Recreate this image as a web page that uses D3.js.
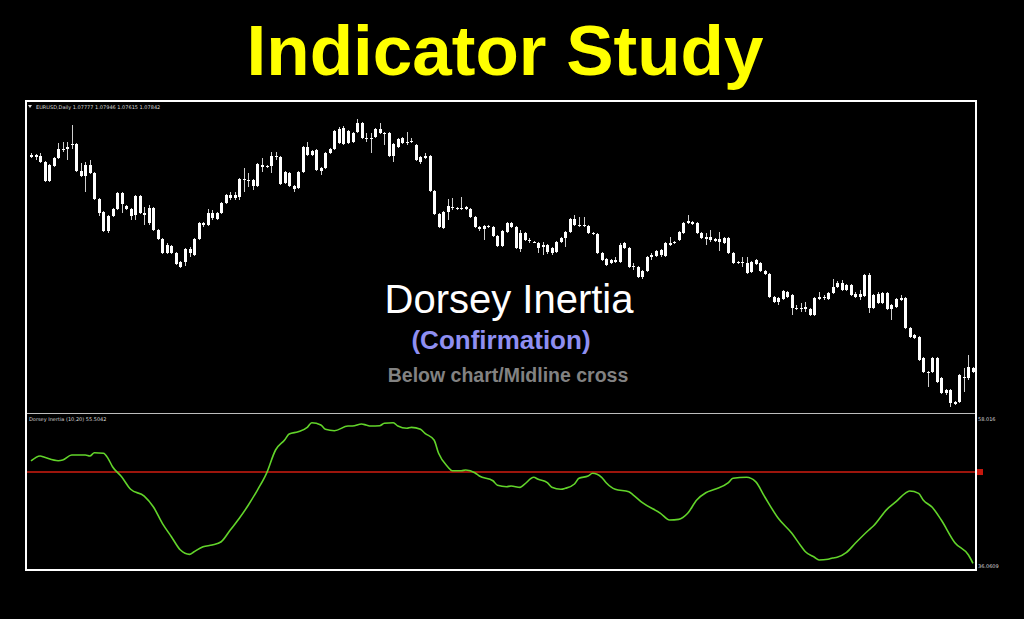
<!DOCTYPE html>
<html>
<head>
<meta charset="utf-8">
<script src="https://cdn.jsdelivr.net/npm/d3@7"></script>
<style>
  body { margin: 0; background: #000; }
  svg { display: block; }
</style>
</head>
<body>
<svg width="1024" height="619"></svg>
<script>
// EURUSD daily candles
var openPrices = [
  1.1190,1.1186,1.1188,1.1176,1.1138,1.1168,1.1184,1.1202,1.1202,1.1210,
  1.1212,1.1158,1.1148,1.1170,1.1154,1.1102,1.1076,1.1038,1.1068,1.1082,
  1.1114,1.1088,1.1082,1.1070,1.1108,1.1074,1.1054,1.1084,1.1040,1.1022,
  1.0994,1.1008,1.0994,1.0976,1.0976,1.1002,1.0990,1.1022,1.1054,1.1050,
  1.1074,1.1062,1.1074,1.1094,1.1110,1.1104,1.1106,1.1142,1.1140,1.1140,
  1.1128,1.1170,1.1166,1.1168,1.1188,1.1186,1.1134,1.1154,1.1128,1.1124,
  1.1156,1.1206,1.1190,1.1200,1.1164,1.1164,1.1194,1.1202,1.1242,1.1212,
  1.1238,1.1216,1.1236,1.1254,1.1224,1.1224,1.1226,1.1242,1.1234,1.1234,
  1.1188,1.1206,1.1224,1.1216,1.1216,1.1210,1.1186,1.1184,1.1188,1.1118,
  1.1072,1.1044,1.1076,1.1086,1.1084,1.1084,1.1086,1.1082,1.1066,1.1046,
  1.1042,1.1048,1.1046,1.1028,1.1008,1.1036,1.1054,1.1046,1.1002,1.1034,
  1.1020,1.1016,1.1014,1.1006,1.1010,1.1004,1.0996,1.1016,1.1024,1.1036,
  1.1062,1.1050,1.1050,1.1048,1.1034,1.1032,1.0994,1.0982,1.0974,1.0980,
  1.0976,1.1014,1.1004,1.0968,1.0966,1.0946,1.0958,1.0986,1.0988,1.1000,
  1.0988,1.1010,1.1014,1.1020,1.1034,1.1054,1.1056,1.1054,1.1034,1.1026,
  1.1020,1.1022,1.1016,1.1024,1.1024,1.0994,1.0976,1.0974,1.0974,1.0956,
  1.0980,1.0974,1.0958,1.0952,1.0906,1.0896,1.0902,1.0916,1.0910,1.0884,
  1.0882,1.0886,1.0882,1.0870,1.0902,1.0906,1.0902,1.0914,1.0926,1.0934,
  1.0920,1.0930,1.0912,1.0906,1.0908,1.0950,1.0884,1.0912,1.0894,1.0914,
  1.0882,1.0886,1.0900,1.0904,1.0844,1.0830,1.0826,1.0784,1.0756,1.0756,
  1.0784,1.0744,1.0720,1.0720,1.0696,1.0696,1.0746,1.0744,1.0756
]
var highPrices = [
  1.1194,1.1192,1.1194,1.1178,1.1172,1.1186,1.1214,1.1216,1.1216,1.1250,
  1.1214,1.1174,1.1176,1.1180,1.1156,1.1104,1.1078,1.1070,1.1084,1.1116,
  1.1116,1.1090,1.1084,1.1110,1.1110,1.1086,1.1090,1.1086,1.1042,1.1024,
  1.1014,1.1010,1.0996,1.0978,1.1004,1.1006,1.1024,1.1056,1.1056,1.1082,
  1.1080,1.1076,1.1096,1.1112,1.1116,1.1116,1.1144,1.1164,1.1154,1.1142,
  1.1174,1.1184,1.1170,1.1196,1.1196,1.1188,1.1158,1.1156,1.1130,1.1158,
  1.1208,1.1216,1.1200,1.1202,1.1166,1.1196,1.1204,1.1240,1.1246,1.1248,
  1.1240,1.1236,1.1262,1.1256,1.1234,1.1234,1.1244,1.1254,1.1236,1.1236,
  1.1214,1.1224,1.1226,1.1236,1.1224,1.1212,1.1188,1.1194,1.1190,1.1120,
  1.1074,1.1078,1.1102,1.1104,1.1086,1.1106,1.1088,1.1084,1.1068,1.1048,
  1.1050,1.1050,1.1048,1.1030,1.1040,1.1056,1.1056,1.1048,1.1040,1.1036,
  1.1024,1.1018,1.1016,1.1016,1.1012,1.1006,1.1018,1.1026,1.1038,1.1064,
  1.1070,1.1066,1.1066,1.1050,1.1036,1.1034,1.0996,1.0984,1.0982,1.0986,
  1.1014,1.1016,1.1006,1.0974,1.0968,1.0960,1.0988,1.0994,1.1000,1.1002,
  1.1016,1.1026,1.1018,1.1038,1.1056,1.1070,1.1058,1.1056,1.1036,1.1034,
  1.1040,1.1024,1.1036,1.1026,1.1026,1.0996,1.0978,1.0986,1.0986,1.0978,
  1.0982,1.0976,1.0960,1.0954,1.0908,1.0906,1.0920,1.0918,1.0912,1.0890,
  1.0894,1.0896,1.0884,1.0906,1.0916,1.0910,1.0916,1.0942,1.0938,1.0940,
  1.0932,1.0932,1.0916,1.0920,1.0952,1.0954,1.0912,1.0916,1.0916,1.0916,
  1.0892,1.0904,1.0910,1.0906,1.0846,1.0832,1.0828,1.0786,1.0758,1.0786,
  1.0786,1.0746,1.0722,1.0722,1.0698,1.0752,1.0764,1.0790,1.0766
]
var lowPrices = [
  1.1184,1.1180,1.1174,1.1136,1.1136,1.1166,1.1182,1.1196,1.1180,1.1202,
  1.1156,1.1146,1.1116,1.1152,1.1100,1.1068,1.1036,1.1034,1.1066,1.1080,
  1.1074,1.1080,1.1060,1.1060,1.1072,1.1050,1.1050,1.1038,1.1020,1.0992,
  1.0992,1.0992,1.0970,1.0964,1.0968,1.0986,1.0988,1.1020,1.1046,1.1048,
  1.1060,1.1060,1.1072,1.1092,1.1100,1.1100,1.1100,1.1116,1.1126,1.1120,
  1.1126,1.1156,1.1164,1.1154,1.1180,1.1130,1.1132,1.1126,1.1116,1.1122,
  1.1154,1.1188,1.1188,1.1158,1.1150,1.1162,1.1192,1.1200,1.1212,1.1210,
  1.1212,1.1214,1.1234,1.1222,1.1216,1.1194,1.1224,1.1232,1.1210,1.1186,
  1.1176,1.1204,1.1212,1.1210,1.1214,1.1178,1.1172,1.1182,1.1116,1.1070,
  1.1044,1.1042,1.1060,1.1080,1.1080,1.1080,1.1080,1.1064,1.1044,1.1038,
  1.1020,1.1044,1.1026,1.1006,1.1006,1.1034,1.1044,1.1002,1.0996,1.1018,
  1.1014,1.1014,1.0994,1.0990,1.0992,1.0990,1.0994,1.1014,1.1006,1.1034,
  1.1048,1.1046,1.1046,1.1032,1.1030,1.0992,1.0978,1.0968,1.0972,1.0974,
  1.0974,1.1002,1.0964,1.0960,1.0944,1.0942,1.0956,1.0980,1.0986,1.0986,
  1.0986,1.1008,1.1012,1.1018,1.1032,1.1052,1.1050,1.1032,1.1022,1.1010,
  1.1016,1.1016,1.0998,1.1012,1.0992,1.0972,1.0972,1.0966,1.0952,1.0954,
  1.0970,1.0956,1.0950,1.0904,1.0894,1.0890,1.0900,1.0904,1.0870,1.0880,
  1.0876,1.0876,1.0868,1.0868,1.0900,1.0900,1.0900,1.0912,1.0924,1.0918,
  1.0918,1.0908,1.0904,1.0900,1.0906,1.0874,1.0882,1.0892,1.0892,1.0880,
  1.0860,1.0884,1.0898,1.0842,1.0824,1.0822,1.0778,1.0754,1.0726,1.0754,
  1.0734,1.0712,1.0710,1.0686,1.0690,1.0694,1.0716,1.0740,1.0754
]
var closePrices = [
  1.1186,1.1190,1.1176,1.1138,1.1170,1.1184,1.1202,1.1200,1.1206,1.1212,
  1.1158,1.1148,1.1170,1.1154,1.1102,1.1074,1.1038,1.1068,1.1082,1.1114,
  1.1092,1.1082,1.1068,1.1108,1.1074,1.1070,1.1084,1.1040,1.1022,1.0994,
  1.1010,1.0994,1.0972,1.0966,1.1002,1.0994,1.1022,1.1054,1.1050,1.1074,
  1.1064,1.1074,1.1094,1.1110,1.1104,1.1110,1.1142,1.1140,1.1138,1.1128,
  1.1172,1.1166,1.1168,1.1188,1.1186,1.1132,1.1156,1.1128,1.1122,1.1156,
  1.1206,1.1190,1.1198,1.1160,1.1158,1.1194,1.1202,1.1238,1.1214,1.1244,
  1.1214,1.1234,1.1254,1.1224,1.1224,1.1222,1.1242,1.1234,1.1232,1.1188,
  1.1212,1.1222,1.1214,1.1216,1.1218,1.1180,1.1176,1.1188,1.1118,1.1072,
  1.1046,1.1076,1.1088,1.1086,1.1084,1.1084,1.1082,1.1066,1.1046,1.1042,
  1.1048,1.1046,1.1028,1.1008,1.1038,1.1054,1.1046,1.1004,1.1034,1.1020,
  1.1020,1.1016,1.1004,1.1010,1.0996,1.0994,1.1016,1.1024,1.1036,1.1062,
  1.1050,1.1050,1.1048,1.1034,1.1032,1.0994,1.0980,1.0970,1.0980,1.0976,
  1.1010,1.1004,1.0966,1.0966,1.0946,1.0958,1.0986,1.0990,1.0998,1.0990,
  1.1014,1.1014,1.1016,1.1036,1.1054,1.1058,1.1052,1.1034,1.1024,1.1022,
  1.1026,1.1018,1.1022,1.1014,1.0994,1.0974,1.0974,1.0976,1.0954,1.0976,
  1.0972,1.0958,1.0952,1.0906,1.0896,1.0904,1.0918,1.0906,1.0884,1.0882,
  1.0884,1.0882,1.0870,1.0904,1.0906,1.0904,1.0914,1.0926,1.0934,1.0920,
  1.0930,1.0910,1.0906,1.0912,1.0950,1.0884,1.0910,1.0894,1.0914,1.0882,
  1.0890,1.0902,1.0904,1.0844,1.0826,1.0824,1.0780,1.0756,1.0754,1.0784,
  1.0736,1.0714,1.0714,1.0694,1.0692,1.0750,1.0744,1.0766,1.0764
]

// Dorsey Inertia (10,20), sampled at bar numbers
var inertiaBars = [0, 2, 3, 6, 7, 9, 12, 13, 14, 16, 17, 18, 20, 22, 25, 27, 29, 31, 33, 35,
  36, 38, 40, 42, 44, 46, 48, 50, 52, 54, 56, 57, 59, 61, 62, 64, 65, 67, 70, 71,
  73, 74, 75, 77, 78, 80, 81, 83, 84, 86, 87, 89, 90, 92, 93, 95, 96, 98, 99, 102,
  103, 105, 106, 108, 109, 111, 112, 114, 115, 117, 118, 120, 121, 123, 124, 126, 127, 129, 132, 133,
  135, 139, 141, 143, 145, 147, 149, 151, 154, 155, 158, 160, 162, 165, 168, 170, 171, 173, 174, 176,
  177, 178, 180, 182, 185, 186, 189, 191, 193, 194, 196, 197, 199, 201, 204, 207, 208]
var inertiaValues = [51.64, 52.38, 52.18, 51.68, 51.78, 52.53, 52.53, 52.38, 52.87, 52.78, 52.03, 50.79, 49.31, 47.44, 46.44, 44.86, 42.39, 40.41, 38.43, 37.79,
  38.18, 38.92, 39.18, 39.66, 41.40, 43.14, 45.11, 47.33, 49.81, 53.27, 54.75, 55.64, 55.98, 56.63, 57.32, 56.98, 56.34, 56.13, 56.83, 56.83,
  57.12, 56.98, 56.83, 56.87, 57.23, 57.32, 56.83, 56.49, 56.63, 56.34, 55.74, 54.75, 52.78, 50.79, 50.20, 50.20, 50.30, 49.90, 49.41, 48.71,
  48.03, 47.82, 47.93, 47.73, 48.20, 49.22, 48.92, 48.42, 47.73, 47.44, 47.59, 48.22, 49.07, 49.41, 49.81, 49.22, 48.42, 47.44, 47.08, 46.59,
  45.45, 43.88, 42.88, 42.98, 43.88, 45.85, 46.93, 47.44, 48.42, 49.07, 49.22, 48.57, 46.34, 43.14, 40.91, 39.03, 38.18, 37.35, 36.95, 37.05,
  37.25, 37.35, 38.03, 39.43, 41.40, 41.99, 44.47, 45.60, 46.84, 47.19, 46.84, 45.85, 44.77, 42.88, 39.52, 37.69, 36.46]

var inertiaRange = [36.0609, 58.016]
var inertiaLevel = 50
var inertiaTickLabels = ["58.016", "36.0609"]
var priceLabel = "EURUSD,Daily  1.07777 1.07946 1.07615 1.07842"
var inertiaLabel = "Dorsey Inertia (10,20) 55.5042"

document.addEventListener("DOMContentLoaded", function () {

  var svg = d3.select("svg")

  svg.append("rect").attr("width", 1024).attr("height", 619).style("fill", "#000")

  // headings
  svg.append("text")
    .attr("x", 505).attr("y", 75)
    .attr("text-anchor", "middle")
    .style("font-family", "'Liberation Sans', Arial, sans-serif")
    .style("font-weight", "bold")
    .style("font-size", "71px")
    .style("fill", "#ffff00")
    .text("Indicator Study")

  var xScale = d3.scaleLinear().domain([0, openPrices.length - 1]).range([31, 973])
  var yPrice = d3.scaleLinear().domain([1.0674, 1.1298]).range([413, 101])
  var yInertia = d3.scaleLinear().domain(inertiaRange).range([566, 418])

  // candles
  var bars = d3.range(openPrices.length)

  svg.append("g").selectAll("line.wick")
    .data(bars)
    .enter()
    .append("line")
    .attr("class", "wick")
    .attr("x1", function (i) { return Math.round(xScale(i)) + 0.5 })
    .attr("x2", function (i) { return Math.round(xScale(i)) + 0.5 })
    .attr("y1", function (i) { return yPrice(highPrices[i]) })
    .attr("y2", function (i) { return yPrice(lowPrices[i]) })
    .style("stroke", "#cfcfcf")
    .style("stroke-width", 1)

  svg.append("g").selectAll("rect.body")
    .data(bars)
    .enter()
    .append("rect")
    .attr("class", "body")
    .attr("x", function (i) { return Math.round(xScale(i)) - 1 })
    .attr("y", function (i) { return yPrice(Math.max(openPrices[i], closePrices[i])) })
    .attr("width", 3)
    .attr("height", function (i) {
      return Math.max(1, Math.abs(yPrice(openPrices[i]) - yPrice(closePrices[i])))
    })
    .style("fill", "#ffffff")

  // indicator pane
  svg.append("line")
    .attr("x1", 27).attr("x2", 976)
    .attr("y1", yInertia(inertiaLevel)).attr("y2", yInertia(inertiaLevel))
    .style("stroke", "#d01c10")
    .style("stroke-width", 1.5)

  svg.append("rect")
    .attr("x", 977).attr("y", yInertia(inertiaLevel) - 3)
    .attr("width", 6).attr("height", 6)
    .style("fill", "#c8180e")

  var line = d3.line()
    .x(function (d, i) { return xScale(inertiaBars[i]) })
    .y(function (d) { return yInertia(d) })
    .curve(d3.curveMonotoneX)

  svg.append("path")
    .datum(inertiaValues)
    .attr("d", line)
    .style("fill", "none")
    .style("stroke", "#62d42a")
    .style("stroke-width", 1.6)

  // frame
  svg.append("line")
    .attr("x1", 27).attr("x2", 976).attr("y1", 413.5).attr("y2", 413.5)
    .style("stroke", "#bdbdbd").style("stroke-width", 1)

  svg.append("rect")
    .attr("x", 26).attr("y", 101).attr("width", 950).attr("height", 469)
    .style("fill", "none")
    .style("stroke", "#ffffff")
    .style("stroke-width", 2)

  // small labels
  var small = "'DejaVu Sans', sans-serif"
  svg.append("path")
    .attr("d", "M28,105 L32,105 L30,108 Z")
    .style("fill", "#dddddd")

  svg.append("text")
    .attr("x", 36).attr("y", 109)
    .style("font-family", small).style("font-size", "5px").style("fill", "#d8d8d8")
    .text(priceLabel)

  svg.append("text")
    .attr("x", 29).attr("y", 421)
    .style("font-family", small).style("font-size", "5px").style("fill", "#d8d8d8")
    .text(inertiaLabel)

  svg.selectAll("text.tick")
    .data(inertiaTickLabels)
    .enter()
    .append("text")
    .attr("class", "tick")
    .attr("x", 978)
    .attr("y", function (d, i) { return i == 0 ? 421 : 568 })
    .style("font-family", small).style("font-size", "5px").style("fill", "#d8d8d8")
    .text(function (d) { return d })

  // captions
  svg.append("text")
    .attr("x", 509).attr("y", 313)
    .attr("text-anchor", "middle")
    .style("font-family", "'Liberation Sans', Arial, sans-serif")
    .style("font-size", "40px")
    .style("fill", "#ffffff")
    .text("Dorsey Inertia")

  svg.append("text")
    .attr("x", 501).attr("y", 349)
    .attr("text-anchor", "middle")
    .style("font-family", "'Liberation Sans', Arial, sans-serif")
    .style("font-weight", "bold")
    .style("font-size", "26px")
    .style("fill", "#8f8ff2")
    .text("(Confirmation)")

  svg.append("text")
    .attr("x", 508).attr("y", 382)
    .attr("text-anchor", "middle")
    .style("font-family", "'Liberation Sans', Arial, sans-serif")
    .style("font-weight", "bold")
    .style("font-size", "19.5px")
    .style("fill", "#828282")
    .text("Below chart/Midline cross")

});
</script>
</body>
</html>
